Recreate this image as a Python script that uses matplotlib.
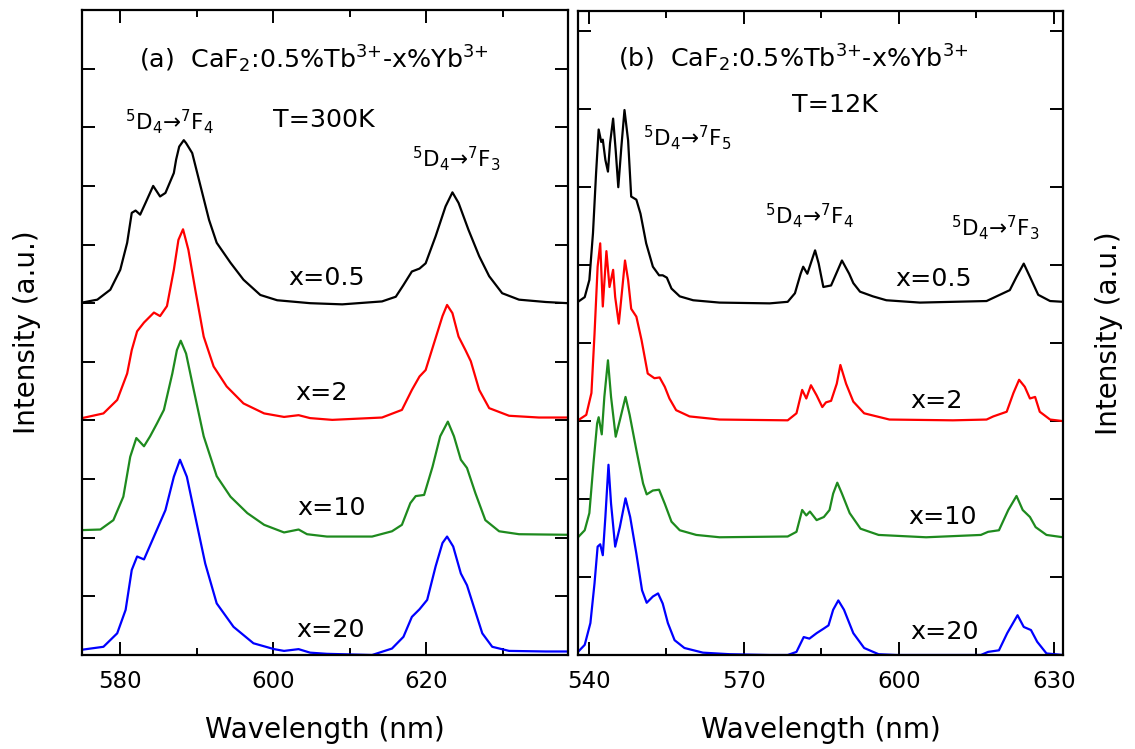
import matplotlib
matplotlib.use("Agg")
import matplotlib.pyplot as plt
from matplotlib.ticker import MultipleLocator

# ---------------- data ----------------
labels = ["x=0.5", "x=2", "x=10", "x=20"]
colors = ["black", "#ff0000", "#1e8a1e", "#0000ff"]

# Panel (a), T = 300 K
a_offsets = [6, 4, 2, 0]
a_black_wl = [575.0, 577.0, 578.7, 580.0, 580.9, 581.5, 582.0, 582.6, 583.3, 584.3, 585.2, 585.9,
              587.0, 587.3, 587.7, 588.3, 588.6, 589.4, 590.5, 591.6, 592.6, 594.4, 596.1, 598.3,
              600.5, 604.8, 609.0, 614.2, 616.0, 617.0, 618.1, 619.1, 619.9, 621.2, 622.5, 623.4,
              624.2, 625.5, 626.9, 628.2, 629.9, 632.1, 635.6, 638.5]
a_black_int = [0.01, 0.06, 0.23, 0.57, 1.03, 1.54, 1.58, 1.51, 1.71, 2.00, 1.82, 1.88,
               2.22, 2.45, 2.67, 2.78, 2.73, 2.56, 1.99, 1.42, 1.03, 0.69, 0.40, 0.14,
               0.05, 0.00, -0.02, 0.03, 0.11, 0.31, 0.54, 0.59, 0.68, 1.14, 1.65, 1.89,
               1.71, 1.25, 0.80, 0.46, 0.17, 0.06, 0.02, 0.00]
a_red_wl = [575.0, 577.8, 579.6, 580.9, 581.5, 582.2, 583.1, 584.4, 585.2, 586.1, 587.0, 587.6,
            588.2, 588.9, 589.8, 590.9, 592.2, 593.9, 596.1, 598.8, 601.4, 603.3, 604.8, 607.7,
            614.2, 616.8, 618.1, 619.1, 619.9, 621.0, 622.1, 622.7, 623.4, 624.2, 625.1, 625.8,
            626.9, 628.2, 630.8, 634.7, 638.5]
a_red_int = [0.04, 0.12, 0.35, 0.80, 1.20, 1.52, 1.67, 1.84, 1.78, 1.95, 2.57, 3.08,
             3.26, 2.91, 2.23, 1.43, 0.92, 0.58, 0.29, 0.12, 0.06, 0.09, 0.04, 0.01,
             0.05, 0.18, 0.52, 0.75, 0.86, 1.32, 1.78, 1.97, 1.83, 1.43, 1.20, 1.01,
             0.52, 0.21, 0.08, 0.05, 0.05]
a_green_wl = [575.0, 577.4, 579.1, 580.4, 581.3, 582.1, 583.1, 583.9, 584.8, 585.7, 586.8, 587.4,
              587.9, 588.6, 589.6, 590.9, 592.6, 594.4, 596.6, 598.8, 601.4, 603.3, 604.4, 607.0,
              612.9, 615.5, 616.8, 617.9, 618.6, 619.7, 620.8, 621.8, 622.8, 623.6, 624.5, 625.3,
              626.4, 627.7, 629.5, 632.1, 638.5]
a_green_int = [0.13, 0.14, 0.30, 0.70, 1.38, 1.70, 1.56, 1.73, 1.95, 2.18, 2.80, 3.20,
               3.36, 3.14, 2.52, 1.73, 1.05, 0.70, 0.42, 0.22, 0.09, 0.14, 0.06, 0.02,
               0.02, 0.11, 0.22, 0.59, 0.71, 0.73, 1.21, 1.73, 1.98, 1.73, 1.33, 1.19,
               0.76, 0.30, 0.11, 0.06, 0.05]
a_blue_wl = [575.0, 577.8, 579.6, 580.7, 581.5, 582.2, 583.1, 584.4, 585.9, 587.0, 587.8, 588.7,
             589.8, 591.1, 592.6, 594.8, 597.4, 600.1, 601.4, 603.3, 604.8, 607.0, 612.9, 615.5,
             617.0, 618.1, 619.1, 620.1, 621.2, 622.1, 622.7, 623.5, 624.5, 625.3, 626.2, 627.3,
             628.6, 630.8, 635.6, 638.5]
a_blue_int = [0.09, 0.14, 0.37, 0.77, 1.45, 1.68, 1.63, 2.02, 2.47, 3.04, 3.33, 3.04,
              2.36, 1.56, 0.88, 0.48, 0.20, 0.10, 0.07, 0.10, 0.04, 0.02, 0.00, 0.11,
              0.31, 0.65, 0.78, 0.94, 1.51, 1.91, 2.02, 1.85, 1.39, 1.19, 0.82, 0.37,
              0.14, 0.07, 0.06, 0.06]

# Panel (b), T = 12 K
b_offsets = [4.5, 3.0, 1.5, 0.0]
b_black_wl = [537.9, 539.2, 540.1, 540.8, 541.4, 541.9, 542.4, 542.7, 543.2, 543.7, 544.1, 544.7,
              545.2, 545.7, 546.3, 546.9, 547.6, 548.2, 549.2, 550.0, 551.1, 552.4, 553.6, 554.3,
              555.1, 556.0, 557.6, 560.2, 565.3, 575.0, 578.5, 579.9, 581.0, 581.5, 582.3, 583.8,
              584.5, 585.4, 586.9, 589.0, 590.4, 591.2, 592.5, 595.0, 597.6, 604.1, 617.0, 621.5,
              622.8, 624.2, 625.4, 627.0, 629.3, 631.8]
b_black_int = [0.03, 0.09, 0.31, 0.91, 1.68, 2.24, 2.08, 2.11, 1.85, 1.70, 2.06, 2.38,
               1.97, 1.50, 2.02, 2.49, 2.10, 1.38, 1.34, 1.16, 0.78, 0.48, 0.37, 0.37,
               0.34, 0.20, 0.10, 0.05, 0.02, 0.01, 0.03, 0.14, 0.39, 0.48, 0.39, 0.69,
               0.52, 0.22, 0.24, 0.56, 0.39, 0.27, 0.16, 0.10, 0.05, 0.02, 0.04, 0.18,
               0.35, 0.52, 0.35, 0.12, 0.04, 0.03]
b_red_wl = [537.9, 539.5, 540.5, 541.1, 541.7, 542.2, 542.7, 543.4, 544.0, 544.7, 545.1, 545.8,
            546.5, 547.0, 547.6, 548.2, 549.2, 550.2, 551.4, 552.7, 553.7, 554.7, 555.6, 556.9,
            559.5, 565.3, 578.5, 580.2, 581.3, 582.1, 583.0, 584.1, 585.2, 585.9, 586.9, 588.0,
            588.7, 589.8, 591.2, 593.3, 598.2, 610.5, 617.0, 618.3, 620.9, 622.2, 623.3, 624.4,
            625.4, 626.4, 627.3, 629.3, 631.8]
b_red_int = [0.01, 0.08, 0.36, 1.12, 1.98, 2.28, 1.47, 2.18, 1.72, 1.94, 1.59, 1.25,
             1.72, 2.06, 1.81, 1.44, 1.34, 1.04, 0.61, 0.55, 0.56, 0.44, 0.29, 0.14,
             0.06, 0.02, 0.01, 0.10, 0.40, 0.29, 0.46, 0.33, 0.18, 0.24, 0.26, 0.48,
             0.72, 0.48, 0.25, 0.10, 0.02, 0.01, 0.02, 0.06, 0.12, 0.36, 0.53, 0.44,
             0.29, 0.31, 0.12, 0.02, 0.00]
b_green_wl = [537.9, 539.2, 540.1, 540.9, 541.6, 541.9, 542.5, 543.0, 543.7, 544.3, 545.2, 546.0,
              547.1, 547.9, 549.2, 550.5, 551.2, 552.4, 553.6, 554.7, 556.0, 557.6, 560.8, 565.3,
              578.5, 580.2, 581.3, 582.1, 582.8, 584.1, 585.5, 586.6, 587.3, 588.1, 589.0, 590.5,
              592.6, 596.1, 605.3, 615.9, 617.3, 619.4, 621.2, 622.8, 624.0, 625.4, 626.5, 628.6,
              631.8]
b_green_int = [0.01, 0.10, 0.32, 0.96, 1.47, 1.55, 1.33, 1.81, 2.28, 1.81, 1.30, 1.51,
               1.81, 1.58, 1.13, 0.70, 0.56, 0.61, 0.62, 0.44, 0.21, 0.10, 0.04, 0.01,
               0.02, 0.08, 0.36, 0.29, 0.34, 0.23, 0.27, 0.36, 0.57, 0.71, 0.57, 0.32,
               0.12, 0.04, 0.01, 0.04, 0.08, 0.10, 0.36, 0.54, 0.36, 0.27, 0.14, 0.04,
               0.01]
b_blue_wl = [537.9, 539.2, 540.3, 541.1, 541.7, 542.2, 542.7, 543.2, 543.8, 544.3, 545.1, 546.0,
             547.1, 548.0, 549.2, 550.3, 551.2, 552.4, 553.4, 554.3, 555.3, 556.6, 558.5, 562.1,
             567.3, 575.0, 578.5, 580.2, 581.6, 582.7, 584.1, 585.5, 586.4, 587.3, 588.3, 589.4,
             591.2, 593.3, 596.1, 599.6, 615.9, 617.3, 619.4, 621.0, 623.0, 624.2, 625.6, 626.8,
             628.6, 631.8]
b_blue_int = [0.04, 0.13, 0.41, 0.92, 1.39, 1.42, 1.28, 1.77, 2.44, 1.94, 1.39, 1.64,
              2.01, 1.77, 1.30, 0.83, 0.67, 0.75, 0.79, 0.66, 0.41, 0.19, 0.09, 0.03,
              0.01, 0.00, 0.00, 0.04, 0.23, 0.21, 0.28, 0.34, 0.38, 0.58, 0.70, 0.58,
              0.28, 0.09, 0.01, 0.00, 0.00, 0.04, 0.06, 0.28, 0.51, 0.36, 0.32, 0.17,
              0.02, 0.00]

a_series = [(a_black_wl, a_black_int), (a_red_wl, a_red_int), (a_green_wl, a_green_int), (a_blue_wl, a_blue_int)]
b_series = [(b_black_wl, b_black_int), (b_red_wl, b_red_int), (b_green_wl, b_green_int), (b_blue_wl, b_blue_int)]

a_xticks = [580, 600, 620]
b_xticks = [540, 570, 600, 630]

# ---------------- figure ----------------
W, H = 1135, 749
fig = plt.figure(figsize=(W / 100, H / 100), dpi=100)

def box(x0, y0, x1, y1):
    return [x0 / W, 1 - y1 / H, (x1 - x0) / W, (y1 - y0) / H]

axA = fig.add_axes(box(82, 10, 568, 655))
axB = fig.add_axes(box(578, 11, 1063, 655))

for ax, series, offs in [(axA, a_series, a_offsets), (axB, b_series, b_offsets)]:
    for (wl, it), off, c in zip(series, offs, colors):
        ax.plot(wl, [v + off for v in it], color=c, lw=1.6, solid_joinstyle="round")
    for s in ax.spines.values():
        s.set_linewidth(1.6)
    ax.tick_params(which="both", direction="in", top=True, right=True, width=1.4,
                   labelsize=16.5, pad=11)
    ax.tick_params(which="major", length=9.5)
    ax.tick_params(which="minor", length=5)
    ax.yaxis.set_major_locator(MultipleLocator(1))
    ax.tick_params(axis="y", labelleft=False, labelright=False)
    ax.set_xlabel("Wavelength (nm)", fontsize=20, labelpad=16)
    ax.set_ylabel("Intensity (a.u.)", fontsize=20)

axA.set_xlim(575, 638.5)
axA.set_ylim(0, 11)
axA.set_xticks(a_xticks)
axA.xaxis.set_minor_locator(MultipleLocator(10))
axA.yaxis.set_label_coords(-0.084, 0.5)

axB.set_xlim(537.9, 631.8)
axB.set_ylim(0, 8.26)
axB.set_xticks(b_xticks)
axB.xaxis.set_minor_locator(MultipleLocator(15))
axB.yaxis.set_label_position("right")
axB.yaxis.set_label_coords(1.066, 0.5)

big = 18.3
mid = 15.5
title_tpl = r"({})  CaF$_2$:0.5%Tb$^{{3{{+}}}}$-x%Yb$^{{3{{+}}}}$"
# panel (a) texts
axA.text(582.5, 10.0, title_tpl.format("a"), fontsize=big, va="baseline")
axA.text(600.0, 9.0, "T=300K", fontsize=big, va="baseline")
axA.text(580.6, 8.96, r"$^5$D$_4$→$^7$F$_4$", fontsize=mid, va="baseline")
axA.text(618.1, 8.33, r"$^5$D$_4$→$^7$F$_3$", fontsize=mid, va="baseline")
for lab, (xx, yy) in zip(labels, [(601.9, 6.31), (602.9, 4.35), (603.1, 2.39), (603.0, 0.31)]):
    axA.text(xx, yy, lab, fontsize=big, va="baseline")

# panel (b) texts
axB.text(545.6, 7.54, title_tpl.format("b"), fontsize=big, va="baseline")
axB.text(579.4, 6.97, "T=12K", fontsize=big, va="baseline")
axB.text(550.5, 6.54, r"$^5$D$_4$→$^7$F$_5$", fontsize=mid, va="baseline")
axB.text(574.1, 5.53, r"$^5$D$_4$→$^7$F$_4$", fontsize=mid, va="baseline")
axB.text(610.1, 5.38, r"$^5$D$_4$→$^7$F$_3$", fontsize=mid, va="baseline")
for lab, (xx, yy) in zip(labels, [(599.4, 4.73), (602.2, 3.17), (601.9, 1.68), (602.3, 0.21)]):
    axB.text(xx, yy, lab, fontsize=big, va="baseline")

fig.savefig("out.png", dpi=100)
